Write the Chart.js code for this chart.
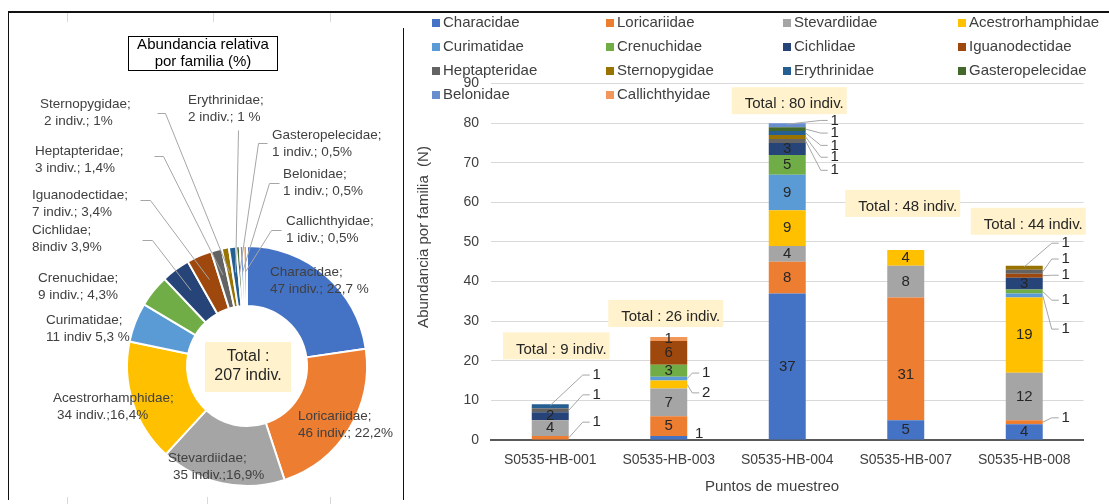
<!DOCTYPE html>
<html>
<head>
<meta charset="utf-8">
<script src="https://cdn.jsdelivr.net/npm/chart.js@4.4.1/dist/chart.umd.min.js"></script>
<style>
  html, body { margin: 0; padding: 0; background: #fff; }
  #page { position: relative; width: 1109px; height: 504px; overflow: hidden; background: #fff; }
  #pieWrap { position: absolute; left: 0; top: 0; width: 405px; height: 504px; }
  #barWrap { position: absolute; left: 410px; top: 0; width: 699px; height: 504px; }
  .rule { position: absolute; background: #111; }
  .tick { position: absolute; background: #d9d9d9; width: 1px; }
</style>
</head>
<body>
<div id="page">
  <div id="pieWrap"><canvas id="pie" width="405" height="504"></canvas></div>
  <div id="barWrap"><canvas id="bars" width="699" height="504"></canvas></div>
  <div class="rule" style="left:8px;top:11px;width:1101px;height:2px"></div>
  <div class="rule" style="left:8px;top:11px;width:1px;height:489px"></div>
  <div class="rule" style="left:403px;top:28px;width:1px;height:472px"></div>
  <div class="tick" style="left:67px;top:13px;height:9px"></div>
  <div class="tick" style="left:213px;top:13px;height:9px"></div>
  <div class="tick" style="left:330px;top:13px;height:9px"></div>
  <div class="tick" style="left:67px;top:497px;height:7px"></div>
  <div class="tick" style="left:207px;top:497px;height:7px"></div>
  <div class="tick" style="left:330px;top:497px;height:7px"></div>
</div>
<script>
// ---- data -------------------------------------------------------------
const stations = ['S0535-HB-001', 'S0535-HB-003', 'S0535-HB-004', 'S0535-HB-007', 'S0535-HB-008'];

const families = ['Characidae', 'Loricariidae', 'Stevardiidae', 'Acestrorhamphidae',
  'Curimatidae', 'Crenuchidae', 'Cichlidae', 'Iguanodectidae', 'Heptapteridae',
  'Sternopygidae', 'Erythrinidae', 'Gasteropelecidae', 'Belonidae', 'Callichthyidae'];

// individuals per family at each sampling point (same order as stations)
const characidae        = [0, 1, 37, 5, 4];
const loricariidae      = [1, 5, 8, 31, 1];
const stevardiidae      = [4, 7, 4, 8, 12];
const acestrorhamphidae = [0, 2, 9, 4, 19];
const curimatidae       = [0, 1, 9, 0, 1];
const crenuchidae       = [0, 3, 5, 0, 1];
const cichlidae         = [2, 0, 3, 0, 3];
const iguanodectidae    = [0, 6, 0, 0, 1];
const heptapteridae     = [1, 0, 1, 0, 1];
const sternopygidae     = [0, 0, 1, 0, 1];
const erythrinidae      = [1, 0, 1, 0, 0];
const gasteropelecidae  = [0, 0, 1, 0, 0];
const belonidae         = [0, 0, 1, 0, 0];
const callichthyidae    = [0, 1, 0, 0, 0];

const yTicks = [0, 10, 20, 30, 40, 50, 60, 70, 80, 90];

// doughnut slice labels
const pieLabelText = [
  ['Characidae;', '47 indiv.; 22,7 %'],
  ['Loricariidae;', '46 indiv.; 22,2%'],
  ['Stevardiidae;', '35 indiv.;16,9%'],
  ['Acestrorhamphidae;', '34 indiv.;16,4%'],
  ['Curimatidae;', '11 indiv 5,3 %'],
  ['Crenuchidae;', '9 indiv.; 4,3%'],
  ['Cichlidae;', '8indiv 3,9%'],
  ['Iguanodectidae;', '7 indiv.; 3,4%'],
  ['Heptapteridae;', '3 indiv.; 1,4%'],
  ['Sternopygidae;', '2 indiv.; 1%'],
  ['Erythrinidae;', '2 indiv.; 1 %'],
  ['Gasteropelecidae;', '1 indiv.; 0,5%'],
  ['Belonidae;', '1 indiv.; 0,5%'],
  ['Callichthyidae;', '1 idiv.; 0,5%']
];

// ---- derived series ----------------------------------------------------
const perFamily = [characidae, loricariidae, stevardiidae, acestrorhamphidae,
  curimatidae, crenuchidae, cichlidae, iguanodectidae, heptapteridae,
  sternopygidae, erythrinidae, gasteropelecidae, belonidae, callichthyidae];
const familyTotals = perFamily.map(a => a.reduce((s, v) => s + v, 0));
const grandTotal = familyTotals.reduce((s, v) => s + v, 0);
const stationTotals = stations.map((_, i) => perFamily.reduce((s, a) => s + a[i], 0));

// ---- styling -----------------------------------------------------------
const FONT = '"Liberation Sans", Arial, sans-serif';
const familyColors = ['#4472C4', '#ED7D31', '#A5A5A5', '#FFC000', '#5B9BD5', '#70AD47',
  '#264478', '#9E480E', '#636363', '#997300', '#255E91', '#43682B', '#698ED0', '#F1975A'];

// label placement for the doughnut: [left x, first-line y, second-line indent]
const pieLabelPos = [
  [270, 272, 0], [298, 416, 0], [168, 458, 5], [53, 398, 4], [46, 320, 0],
  [38, 278, 0], [32, 230, 0], [32, 195, 0], [35, 151, 0], [40, 104, 4],
  [188, 100, 0], [272, 135, 0], [283, 174, 0], [286, 221, 0]
];
// leader lines: start and elbow near the label, then into the slice
const pieLeaders = {
  6: [142, 240, 152, 240],
  7: [140, 200, 150, 200],
  8: [154, 156, 163, 156],
  9: [157, 113, 165, 113],
  10: [238, 130, 238, 130],
  11: [267, 143, 258, 143],
  12: [279, 183, 269, 183],
  13: [281, 230, 271, 230]
};

const pieAnnotations = {
  id: 'pieAnnotations',
  afterDraw(chart) {
    const ctx = chart.ctx;
    const meta = chart.getDatasetMeta(0);
    const cx = meta.data[0].x, cy = meta.data[0].y;
    ctx.save();
    // leader lines
    ctx.strokeStyle = '#A6A6A6';
    ctx.lineWidth = 1;
    Object.keys(pieLeaders).forEach(k => {
      const arc = meta.data[+k];
      const p = pieLeaders[k];
      const mid = (arc.startAngle + arc.endAngle) / 2;
      const r = arc.innerRadius + (arc.outerRadius - arc.innerRadius) * 0.57;
      ctx.beginPath();
      ctx.moveTo(p[0] + 0.5, p[1] + 0.5);
      ctx.lineTo(p[2] + 0.5, p[3] + 0.5);
      ctx.lineTo(cx + Math.cos(mid) * r, cy + Math.sin(mid) * r);
      ctx.stroke();
    });
    // slice labels
    ctx.fillStyle = '#404040';
    ctx.font = '13.5px ' + FONT;
    ctx.textAlign = 'left';
    ctx.textBaseline = 'middle';
    pieLabelText.forEach((lines, i) => {
      const [x, y, ind] = pieLabelPos[i];
      ctx.fillText(lines[0], x, y);
      ctx.fillText(lines[1], x + ind, y + 17);
    });
    // title box
    ctx.strokeStyle = '#000';
    ctx.lineWidth = 1;
    ctx.strokeRect(128.5, 36.5, 149, 34);
    ctx.fillStyle = '#000';
    ctx.font = '15px ' + FONT;
    ctx.textAlign = 'center';
    ctx.fillText('Abundancia relativa', 203, 45);
    ctx.fillText('por familia (%)', 203, 62);
    // centre total
    ctx.fillStyle = '#FFF2CC';
    ctx.fillRect(cx - 42, cy - 24, 86, 50);
    ctx.fillStyle = '#262626';
    ctx.font = '16px ' + FONT;
    ctx.fillText('Total :', cx + 1, cy - 9);
    ctx.fillText(grandTotal + ' indiv.', cx + 1, cy + 10);
    ctx.restore();
  }
};

new Chart(document.getElementById('pie'), {
  type: 'doughnut',
  data: {
    labels: families,
    datasets: [{
      data: familyTotals,
      backgroundColor: familyColors,
      borderColor: '#ffffff',
      borderWidth: 2
    }]
  },
  options: {
    responsive: false,
    animation: false,
    devicePixelRatio: 1,
    cutout: '50%',
    layout: { padding: { left: 126, top: 245, right: 37, bottom: 17 } },
    plugins: { legend: { display: false }, tooltip: { enabled: false } }
  },
  plugins: [pieAnnotations]
});

// ---- stacked bars ------------------------------------------------------
// small segments labelled beside the bar: [family, station, label height in N, leader start]
const callouts = [
  ['Loricariidae', 0, 4.5, 'side'],
  ['Heptapteridae', 0, 11.4, 'side'],
  ['Erythrinidae', 0, 16.4, 'top'],
  ['Characidae', 1, 1.5, 'none'],
  ['Acestrorhamphidae', 1, 11.9, 'side'],
  ['Curimatidae', 1, 16.9, 'side'],
  ['Belonidae', 2, 80.7, 'top'],
  ['Gasteropelecidae', 2, 77.5, 'side'],
  ['Erythrinidae', 2, 74.4, 'side'],
  ['Sternopygidae', 2, 71.4, 'side'],
  ['Heptapteridae', 2, 68.1, 'side'],
  ['Loricariidae', 4, 5.6, 'side'],
  ['Sternopygidae', 4, 49.7, 'top'],
  ['Heptapteridae', 4, 45.7, 'side'],
  ['Iguanodectidae', 4, 41.6, 'side'],
  ['Crenuchidae', 4, 35.3, 'side'],
  ['Curimatidae', 4, 28.0, 'side']
];
const calloutGap = [28, 19, 29, 0, 23];          // label distance from bar edge (px)
const totalShift = [[11, -55], [2, -20], [7, -19], [2, -43], [9, -41]]; // total box offset from bar top
const labelNudge = { 'Loricariidae:3': 16 };      // vertical nudge for individual inner labels

const legendCols = [22, 196, 373, 548];
const legendRows = [23, 47, 71, 95];

const barAnnotations = {
  id: 'barAnnotations',
  afterDatasetsDraw(chart) {
    const ctx = chart.ctx;
    const yS = chart.scales.y;
    const outside = new Set(callouts.map(c => c[0] + ':' + c[1]));
    ctx.save();
    ctx.textAlign = 'center';
    ctx.textBaseline = 'middle';
    ctx.font = '15px ' + FONT;
    ctx.fillStyle = '#262626';
    // values inside the segments
    families.forEach((f, d) => {
      const meta = chart.getDatasetMeta(d);
      perFamily[d].forEach((v, i) => {
        if (!v || outside.has(f + ':' + i)) return;
        const bar = meta.data[i];
        const nudge = labelNudge[f + ':' + i] || 0;
        ctx.fillText(String(v), bar.x, (bar.y + bar.base) / 2 + nudge);
      });
    });
    // callouts
    ctx.strokeStyle = '#A6A6A6';
    ctx.lineWidth = 1;
    callouts.forEach(([f, i, h, kind]) => {
      const d = families.indexOf(f);
      const bar = chart.getDatasetMeta(d).data[i];
      const right = bar.x + bar.width / 2;
      const ly = yS.getPixelForValue(h);
      const lx = right + (kind === 'none' ? calloutGap[i] - 7 : calloutGap[i]);
      if (kind !== 'none') {
        const sx = kind === 'top' ? bar.x : right;
        const sy = kind === 'top' ? bar.y + 1 : (bar.y + bar.base) / 2;
        ctx.beginPath();
        ctx.moveTo(sx, sy);
        ctx.lineTo(lx - 14, ly);
        ctx.lineTo(lx - 7, ly);
        ctx.stroke();
      }
      ctx.fillText(String(perFamily[d][i]), lx, ly);
    });
    // station totals
    stations.forEach((s, i) => {
      const top = yS.getPixelForValue(stationTotals[i]);
      const x = chart.scales.x.getPixelForValue(i) + totalShift[i][0];
      const y = top + totalShift[i][1];
      const txt = 'Total : ' + stationTotals[i] + ' indiv.';
      const w = ctx.measureText(txt).width;
      ctx.fillStyle = '#FFF2CC';
      ctx.fillRect(x - w / 2 - 13, y - 17, w + 16, 27);
      ctx.fillStyle = '#262626';
      ctx.fillText(txt, x, y);
    });
    ctx.restore();
  },
  afterDraw(chart) {
    const ctx = chart.ctx;
    ctx.save();
    // legend
    ctx.font = '15px ' + FONT;
    ctx.textAlign = 'left';
    ctx.textBaseline = 'middle';
    families.forEach((f, k) => {
      const x = legendCols[k % 4], y = legendRows[Math.floor(k / 4)];
      ctx.fillStyle = familyColors[k];
      ctx.fillRect(x, y - 4, 8, 8);
      ctx.fillStyle = '#404040';
      ctx.fillText(f, x + 11, y);
    });
    // axis titles
    ctx.fillStyle = '#404040';
    ctx.textAlign = 'center';
    ctx.fillText('Puntos de muestreo', 362, 487);
    ctx.translate(14, 237);
    ctx.rotate(-Math.PI / 2);
    ctx.fillText('Abundancia por familia  (N)', 0, 0);
    ctx.restore();
  }
};

new Chart(document.getElementById('bars'), {
  type: 'bar',
  data: {
    labels: stations,
    datasets: families.map((f, d) => ({
      label: f,
      data: perFamily[d],
      backgroundColor: familyColors[d],
      borderWidth: 0,
      categoryPercentage: 0.312,
      barPercentage: 1
    }))
  },
  options: {
    responsive: false,
    animation: false,
    devicePixelRatio: 1,
    layout: { padding: { left: 0, top: 83.6, right: 25.5, bottom: 0 } },
    plugins: { legend: { display: false }, tooltip: { enabled: false } },
    scales: {
      x: {
        stacked: true,
        grid: { display: false, drawTicks: false },
        border: { display: true, color: '#595959', width: 2 },
        ticks: { color: '#404040', font: { family: FONT, size: 14 }, padding: 12, maxRotation: 0 },
        afterFit(s) { s.height = 64; }
      },
      y: {
        stacked: true,
        min: 0,
        max: 90,
        afterBuildTicks(s) { s.ticks = yTicks.map(v => ({ value: v })); },
        grid: { color: '#D9D9D9', drawTicks: false },
        border: { display: false },
        ticks: { color: '#404040', font: { family: FONT, size: 14 }, padding: 12 },
        afterFit(s) { s.width = 81; }
      }
    }
  },
  plugins: [barAnnotations]
});
</script>
</body>
</html>
